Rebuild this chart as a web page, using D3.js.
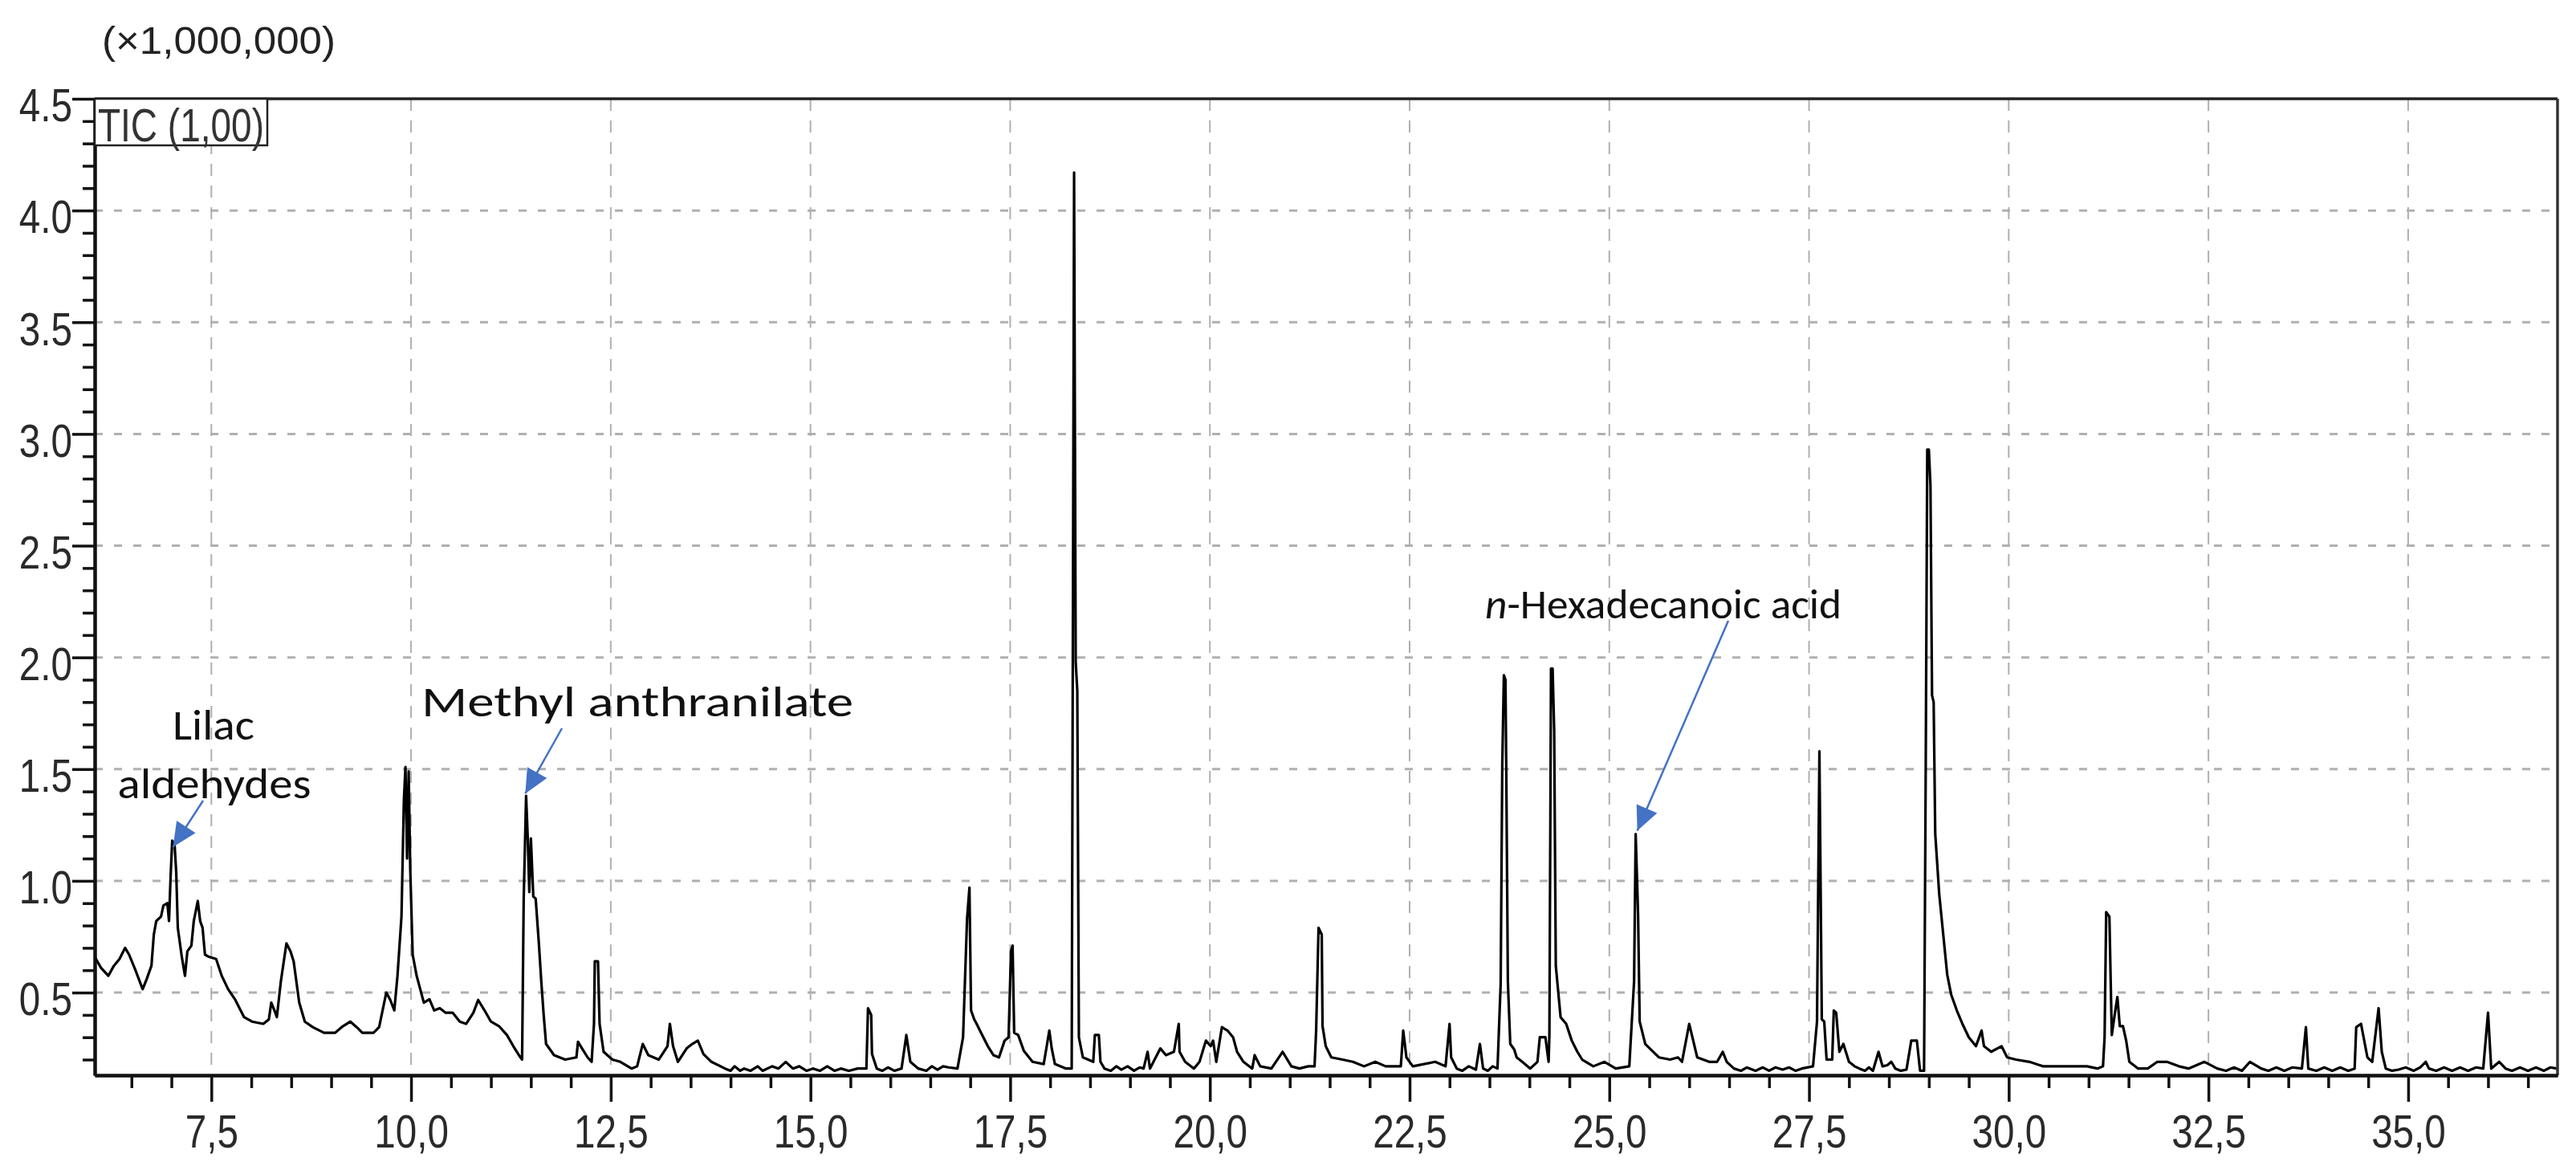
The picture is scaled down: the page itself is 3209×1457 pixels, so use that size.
<!DOCTYPE html>
<html><head><meta charset="utf-8">
<script src="https://cdn.jsdelivr.net/npm/d3@7"></script>
<style>html,body{margin:0;padding:0;background:#fff}</style>
</head><body>
<svg id="chart" width="3209" height="1457"></svg>
<script>
// ---------- data: [retention time (min), TIC (x1,000,000)] ----------
const ticTrace = [
[6.04,0.66],[6.12,0.61],[6.21,0.575],[6.28,0.62],[6.35,0.65],[6.42,0.70],[6.47,0.67],[6.55,0.60],[6.64,0.515],[6.69,0.56],
[6.75,0.62],[6.78,0.76],[6.81,0.82],[6.87,0.84],[6.90,0.89],[6.95,0.90],[6.97,0.82],[6.99,1.02],[7.01,1.18],[7.04,1.16],
[7.06,1.04],[7.08,0.79],[7.13,0.66],[7.17,0.575],[7.20,0.685],[7.25,0.71],[7.28,0.82],[7.33,0.91],[7.36,0.82],[7.39,0.79],
[7.42,0.67],[7.47,0.66],[7.56,0.65],[7.63,0.575],[7.71,0.515],[7.80,0.467],[7.91,0.39],[8.01,0.37],[8.15,0.36],[8.22,0.38],
[8.25,0.455],[8.29,0.42],[8.32,0.39],[8.37,0.55],[8.44,0.72],[8.49,0.685],[8.53,0.64],[8.60,0.455],[8.67,0.37],[8.77,0.345],
[8.91,0.32],[9.05,0.32],[9.13,0.345],[9.24,0.37],[9.32,0.345],[9.39,0.32],[9.53,0.32],[9.60,0.345],[9.69,0.50],[9.74,0.467],
[9.79,0.42],[9.83,0.575],[9.88,0.84],[9.91,1.36],[9.93,1.51],[9.95,1.10],[9.97,1.49],[9.99,1.05],[10.02,0.67],[10.07,0.575],
[10.16,0.455],[10.23,0.47],[10.29,0.42],[10.36,0.43],[10.43,0.41],[10.52,0.41],[10.61,0.37],[10.69,0.36],[10.78,0.41],[10.84,0.467],
[10.92,0.42],[11.00,0.37],[11.10,0.35],[11.20,0.31],[11.28,0.26],[11.35,0.22],[11.39,0.20],[11.41,0.92],[11.44,1.38],[11.46,1.20],
[11.48,0.95],[11.50,1.19],[11.53,0.93],[11.56,0.92],[11.60,0.72],[11.63,0.55],[11.66,0.40],[11.69,0.27],[11.79,0.22],[11.93,0.20],
[12.07,0.21],[12.09,0.28],[12.14,0.25],[12.21,0.21],[12.26,0.19],[12.29,0.36],[12.30,0.64],[12.34,0.64],[12.36,0.36],[12.41,0.235],
[12.52,0.20],[12.62,0.19],[12.76,0.16],[12.83,0.17],[12.90,0.27],[12.97,0.22],[13.10,0.20],[13.21,0.26],[13.24,0.36],[13.28,0.26],
[13.34,0.19],[13.45,0.25],[13.52,0.27],[13.59,0.285],[13.66,0.225],[13.76,0.19],[13.93,0.16],[14.00,0.15],[14.05,0.17],[14.12,0.15],
[14.17,0.16],[14.25,0.15],[14.34,0.17],[14.40,0.15],[14.52,0.17],[14.60,0.16],[14.69,0.19],[14.78,0.16],[14.86,0.17],[14.95,0.15],
[15.03,0.16],[15.12,0.15],[15.21,0.17],[15.30,0.15],[15.38,0.16],[15.48,0.15],[15.59,0.16],[15.70,0.16],[15.72,0.43],[15.76,0.40],
[15.77,0.225],[15.83,0.16],[15.90,0.15],[15.97,0.165],[16.05,0.15],[16.14,0.16],[16.20,0.31],[16.25,0.19],[16.35,0.16],[16.45,0.15],
[16.52,0.17],[16.59,0.155],[16.66,0.17],[16.73,0.165],[16.84,0.16],[16.91,0.30],[16.96,0.83],[16.99,0.97],[17.01,0.42],[17.05,0.38],
[17.08,0.36],[17.15,0.31],[17.22,0.26],[17.29,0.22],[17.36,0.21],[17.43,0.285],[17.48,0.30],[17.51,0.685],[17.53,0.71],[17.55,0.32],
[17.60,0.31],[17.67,0.24],[17.78,0.19],[17.92,0.18],[17.99,0.33],[18.02,0.25],[18.06,0.18],[18.20,0.16],[18.27,0.16],[18.30,4.17],
[18.32,1.98],[18.34,1.85],[18.36,0.30],[18.41,0.21],[18.54,0.19],[18.56,0.31],[18.61,0.31],[18.63,0.19],[18.68,0.16],[18.76,0.15],
[18.83,0.17],[18.89,0.155],[18.97,0.17],[19.05,0.15],[19.12,0.165],[19.17,0.16],[19.22,0.235],[19.25,0.16],[19.38,0.25],[19.45,0.22],
[19.55,0.235],[19.61,0.36],[19.62,0.235],[19.69,0.19],[19.80,0.16],[19.87,0.19],[19.95,0.285],[20.01,0.26],[20.04,0.285],[20.08,0.19],
[20.15,0.345],[20.22,0.33],[20.29,0.30],[20.34,0.235],[20.42,0.19],[20.53,0.16],[20.56,0.22],[20.63,0.17],[20.77,0.16],[20.91,0.235],
[21.02,0.17],[21.12,0.16],[21.23,0.17],[21.31,0.17],[21.33,0.33],[21.36,0.79],[21.40,0.76],[21.41,0.35],[21.45,0.26],[21.52,0.21],
[21.66,0.20],[21.79,0.19],[21.93,0.17],[22.07,0.19],[22.20,0.17],[22.39,0.17],[22.42,0.33],[22.46,0.21],[22.54,0.17],[22.82,0.19],
[22.95,0.17],[23.00,0.36],[23.02,0.21],[23.09,0.16],[23.16,0.15],[23.24,0.17],[23.33,0.155],[23.38,0.27],[23.42,0.16],[23.48,0.15],
[23.54,0.17],[23.60,0.16],[23.64,0.54],[23.66,1.52],[23.68,1.92],[23.70,1.90],[23.71,1.50],[23.73,0.55],[23.76,0.27],[23.81,0.245],
[23.84,0.21],[23.91,0.19],[24.01,0.16],[24.10,0.19],[24.13,0.30],[24.20,0.30],[24.24,0.19],[24.25,0.31],[24.27,1.95],[24.29,1.95],
[24.31,1.67],[24.33,0.62],[24.39,0.39],[24.46,0.36],[24.53,0.285],[24.60,0.235],[24.66,0.20],[24.80,0.17],[24.94,0.19],[25.08,0.16],
[25.25,0.17],[25.31,0.55],[25.33,1.21],[25.36,0.85],[25.38,0.37],[25.45,0.27],[25.55,0.235],[25.62,0.21],[25.76,0.20],[25.86,0.21],
[25.91,0.19],[26.00,0.36],[26.04,0.30],[26.10,0.21],[26.25,0.19],[26.35,0.19],[26.42,0.235],[26.47,0.19],[26.56,0.16],[26.65,0.15],
[26.72,0.165],[26.83,0.15],[26.92,0.165],[27.00,0.15],[27.08,0.165],[27.17,0.155],[27.25,0.165],[27.33,0.15],[27.41,0.16],[27.55,0.17],
[27.60,0.37],[27.63,1.58],[27.66,0.38],[27.69,0.37],[27.72,0.20],[27.79,0.20],[27.81,0.42],[27.84,0.41],[27.88,0.235],[27.93,0.27],
[28.00,0.19],[28.07,0.17],[28.13,0.16],[28.20,0.15],[28.25,0.165],[28.30,0.15],[28.37,0.235],[28.42,0.17],[28.48,0.175],[28.53,0.19],
[28.58,0.16],[28.65,0.15],[28.72,0.155],[28.78,0.285],[28.85,0.285],[28.89,0.15],[28.94,0.15],[28.96,1.45],[28.98,2.93],[29.00,2.93],
[29.02,2.77],[29.04,1.83],[29.06,1.80],[29.08,1.21],[29.13,0.94],[29.18,0.76],[29.23,0.58],[29.28,0.49],[29.35,0.42],[29.42,0.36],
[29.50,0.30],[29.59,0.26],[29.66,0.33],[29.69,0.26],[29.78,0.235],[29.91,0.26],[29.98,0.21],[30.09,0.20],[30.26,0.19],[30.43,0.17],
[30.77,0.17],[30.98,0.17],[31.11,0.16],[31.18,0.17],[31.20,0.30],[31.22,0.86],[31.26,0.84],[31.29,0.31],[31.33,0.41],[31.36,0.48],
[31.39,0.35],[31.43,0.35],[31.47,0.285],[31.51,0.19],[31.62,0.16],[31.74,0.16],[31.86,0.19],[31.98,0.19],[32.13,0.17],[32.25,0.16],
[32.45,0.19],[32.61,0.16],[32.72,0.15],[32.82,0.165],[32.92,0.15],[33.02,0.19],[33.16,0.16],[33.25,0.15],[33.35,0.165],[33.45,0.15],
[33.55,0.165],[33.67,0.16],[33.72,0.345],[33.75,0.16],[33.85,0.15],[33.95,0.165],[34.05,0.15],[34.15,0.165],[34.25,0.15],[34.33,0.16],
[34.35,0.345],[34.41,0.36],[34.49,0.21],[34.55,0.19],[34.63,0.43],[34.67,0.235],[34.72,0.16],[34.80,0.15],[34.88,0.155],[34.97,0.165],
[35.07,0.15],[35.15,0.165],[35.22,0.19],[35.26,0.16],[35.35,0.15],[35.45,0.165],[35.55,0.15],[35.65,0.165],[35.75,0.15],[35.85,0.165],
[35.94,0.16],[36.00,0.41],[36.04,0.16],[36.14,0.19],[36.22,0.16],[36.30,0.15],[36.40,0.165],[36.50,0.15],[36.60,0.165],[36.70,0.15],
[36.78,0.165],[36.86,0.16]
];
const xTicksMajor = [7.5,10,12.5,15,17.5,20,22.5,25,27.5,30,32.5,35];
const yTicksMajor = [0.5,1.0,1.5,2.0,2.5,3.0,3.5,4.0,4.5];
const yGridValues = [0.5,1.0,1.5,2.0,2.5,3.0,3.5,4.0];
const xDomain = [6.04, 36.87];
const yDomain = [0.13, 4.5];
const unitLabel = "(\u00d71,000,000)";
const traceLabel = "TIC (1,00)";
const compoundNames = ["Lilac aldehydes", "Methyl anthranilate", "n-Hexadecanoic acid"];
const compoundRT = [7.02, 11.44, 25.33];
const compoundApex = [1.18, 1.38, 1.21];

// ---------- layout ----------
const L = 118, R = 3186, T = 123, B = 1339;
const svg = d3.select("#chart");
const x = d3.scaleLinear().domain(xDomain).range([L, R]);
const y = d3.scaleLinear().domain(yDomain).range([B, T]);
const axisFont = "'Liberation Sans', Arial, sans-serif";
const noteFont = "Carlito, Lato, 'Open Sans', sans-serif";
const fmtComma = d => d3.format(".1f")(d).replace(".", ",");

function narrow(sel, factor) {
  sel.each(function () {
    const w = this.getComputedTextLength();
    d3.select(this).attr("textLength", w * factor).attr("lengthAdjust", "spacingAndGlyphs");
  });
}

// grid
const grid = svg.append("g");
grid.selectAll("line.v").data(xTicksMajor).join("line")
  .attr("x1", d => x(d)).attr("x2", d => x(d)).attr("y1", T).attr("y2", B)
  .attr("stroke", "#b0b0b0").attr("stroke-width", 2).attr("stroke-dasharray", "15,12");
grid.selectAll("line.h").data(yGridValues).join("line")
  .attr("x1", L).attr("x2", R).attr("y1", d => y(d)).attr("y2", d => y(d))
  .attr("stroke", "#b0b0b0").attr("stroke-width", 3).attr("stroke-dasharray", "10,14");

// trace
svg.append("path").datum(ticTrace)
  .attr("fill", "none").attr("stroke", "#000").attr("stroke-width", 3.2)
  .attr("stroke-linejoin", "round")
  .attr("d", d3.line().x(d => x(d[0])).y(d => y(d[1])));

// frame top/right
svg.append("line").attr("x1", L).attr("x2", R).attr("y1", T).attr("y2", T)
  .attr("stroke", "#222").attr("stroke-width", 3.5);
svg.append("line").attr("x1", R).attr("x2", R).attr("y1", T).attr("y2", B)
  .attr("stroke", "#333").attr("stroke-width", 3.5);

// x axis
const minorX = d3.range(6.5, 36.9, 0.5).filter(v => Math.abs(v / 2.5 - Math.round(v / 2.5)) > 1e-6);
const gx = svg.append("g").attr("transform", `translate(0,${B})`);
gx.call(d3.axisBottom(x).tickValues(minorX).tickSize(16).tickSizeOuter(0).tickFormat(""));
const gxM = svg.append("g").attr("transform", `translate(0,${B})`);
gxM.call(d3.axisBottom(x).tickValues(xTicksMajor).tickSize(33).tickSizeOuter(0).tickPadding(16).tickFormat(fmtComma));
[gx, gxM].forEach(g => {
  g.select(".domain").attr("stroke", "#111").attr("stroke-width", 4);
  g.selectAll(".tick line").attr("stroke", "#111").attr("stroke-width", 3.5);
});
gxM.selectAll(".tick text").attr("font-family", axisFont).attr("font-size", 58).attr("fill", "#2a2a2a").call(narrow, 0.82);

// y axis
const minorY = d3.range(2, 45).map(v => v / 10).filter(v => Math.abs(v * 2 - Math.round(v * 2)) > 1e-6);
const gy = svg.append("g").attr("transform", `translate(${L},0)`);
gy.call(d3.axisLeft(y).tickValues(minorY).tickSize(15).tickSizeOuter(0).tickFormat(""));
const gyM = svg.append("g").attr("transform", `translate(${L},0)`);
gyM.call(d3.axisLeft(y).tickValues(yTicksMajor).tickSize(28).tickSizeOuter(0).tickPadding(0).tickFormat(d3.format(".1f")));
[gy, gyM].forEach(g => {
  g.select(".domain").attr("stroke", "#111").attr("stroke-width", 4);
  g.selectAll(".tick line").attr("stroke", "#111").attr("stroke-width", 3.5);
});
gyM.selectAll(".tick text").attr("font-family", axisFont).attr("font-size", 58).attr("fill", "#2a2a2a")
  .attr("dy", "0.48em").call(narrow, 0.82);

// unit label
svg.append("text").attr("x", 127).attr("y", 67).attr("font-family", axisFont).attr("font-size", 49)
  .attr("fill", "#222").text(unitLabel).attr("textLength", 291).attr("lengthAdjust", "spacingAndGlyphs");

// TIC box
svg.append("rect").attr("x", L).attr("y", T).attr("width", 215).attr("height", 58)
  .attr("fill", "#fff").attr("stroke", "#222").attr("stroke-width", 2.5);
svg.append("text").attr("x", 122).attr("y", 176).attr("font-family", axisFont).attr("font-size", 58)
  .attr("fill", "#333").text(traceLabel).attr("textLength", 207).attr("lengthAdjust", "spacingAndGlyphs");

// annotations
const blue = "#4472c4";
function arrow(sx, sy, tx, ty) {
  svg.append("line").attr("x1", sx).attr("y1", sy).attr("x2", tx).attr("y2", ty)
    .attr("stroke", blue).attr("stroke-width", 2.5);
  const dx = tx - sx, dy = ty - sy, len = Math.hypot(dx, dy);
  const ux = dx / len, uy = dy / len, nx = -uy, ny = ux;
  const hl = 30, hw = 14;
  const bx = tx - ux * hl, by = ty - uy * hl;
  svg.append("path").attr("fill", blue)
    .attr("d", `M${tx},${ty}L${bx + nx * hw},${by + ny * hw}L${bx - nx * hw},${by - ny * hw}Z`);
}

// Lilac aldehydes
const lilacWords = compoundNames[0].split(" ");
svg.append("text").attr("x", 266).attr("y", 921).attr("text-anchor", "middle")
  .attr("font-family", noteFont).attr("font-size", 53).attr("fill", "#111")
  .text(lilacWords[0]).attr("textLength", 102).attr("lengthAdjust", "spacingAndGlyphs");
svg.append("text").attr("x", 267).attr("y", 994).attr("text-anchor", "middle")
  .attr("font-family", noteFont).attr("font-size", 53).attr("fill", "#111")
  .text(lilacWords[1]).attr("textLength", 241).attr("lengthAdjust", "spacingAndGlyphs");
arrow(253, 997, x(compoundRT[0]), y(compoundApex[0]) + 8);

// Methyl anthranilate
svg.append("text").attr("x", 525).attr("y", 892)
  .attr("font-family", noteFont).attr("font-size", 53).attr("fill", "#111")
  .text(compoundNames[1]).attr("textLength", 538).attr("lengthAdjust", "spacingAndGlyphs");
arrow(700, 907, x(compoundRT[1]) - 1, y(compoundApex[1]) - 3);

// n-Hexadecanoic acid
const hx = svg.append("text").attr("x", 1850).attr("y", 770)
  .attr("font-family", noteFont).attr("font-size", 52).attr("fill", "#111")
  .attr("textLength", 444).attr("lengthAdjust", "spacingAndGlyphs");
hx.append("tspan").attr("font-style", "italic").text(compoundNames[2].slice(0, 1));
hx.append("tspan").text(compoundNames[2].slice(1));
arrow(2153, 773, x(compoundRT[2]) + 2, y(compoundApex[2]) - 4);
</script>
</body></html>
